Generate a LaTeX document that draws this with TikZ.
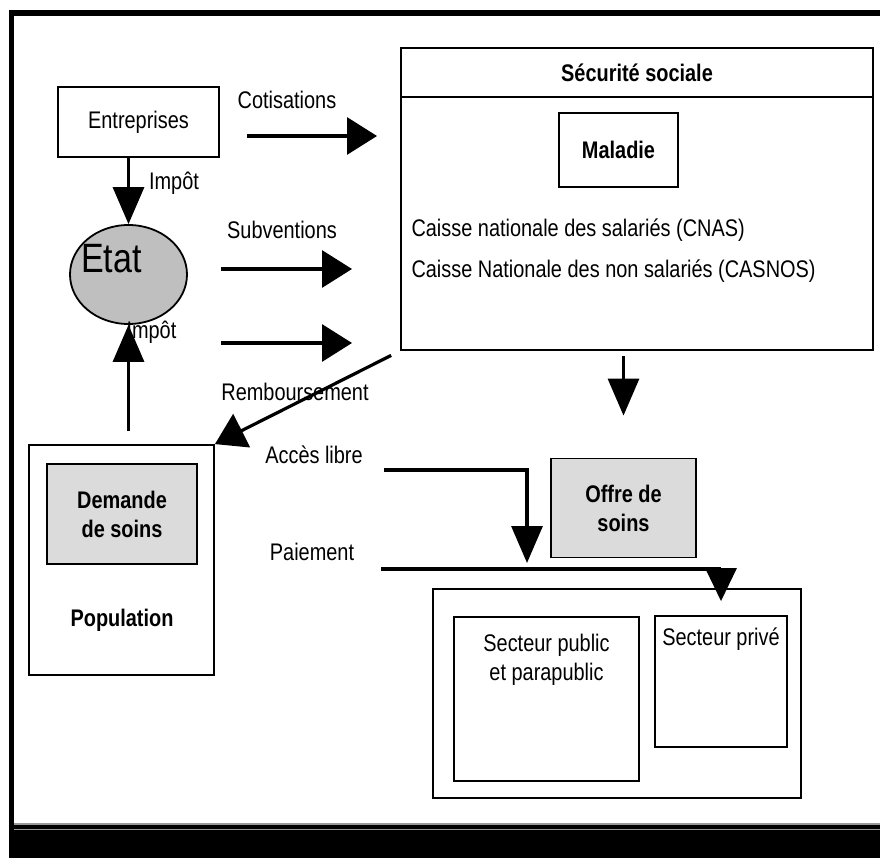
\documentclass[tikz,border=0pt]{standalone}
\usepackage{fontspec}
\setmainfont{Liberation Sans}[FakeStretch=0.83]
\usepackage{xcolor}
\usepackage{tikz}
\usetikzlibrary{arrows.meta, shapes.geometric}

\begin{document}
\begin{tikzpicture}[x=1pt, y=-1pt,
        font=\fontsize{24}{29}\selectfont,
        box/.style={draw, rectangle, line width=1.8pt},
        greybox/.style={box, fill=black!14, font=\fontsize{24}{29}\selectfont\bfseries, align=center},
        flow/.style={line width=3.2pt, -{Triangle[length=30pt,width=37pt]}},
        flowdown/.style={line width=3.2pt, -{Triangle[length=37pt,width=31pt]}}]
        \useasboundingbox (0,0) rectangle (880,858);

        % Frame
        \fill (9,10) rectangle (880,16);
        \fill (9,10) rectangle (14,858);
        \fill (9,823) rectangle (880,858);
        \draw[black!40, line width=1.2pt] (14,824) -- (880,824);
        \draw[black!40, line width=1.2pt] (14,829.5) -- (880,829.5);

        % Nodes
        \node (entreprises) [box, minimum width=161pt, minimum height=70pt] at (138.5,122) {Entreprises};
        \node (secuhead) [box, minimum width=472pt, minimum height=49pt, font=\fontsize{24}{29}\selectfont\bfseries] at (637,72.5) {Sécurité sociale};
        \node (secu) [box, minimum width=472pt, minimum height=253pt] at (637,223.5) {};
        \node (maladie) [box, minimum width=119pt, minimum height=74pt, font=\fontsize{24}{29}\selectfont\bfseries] at (618.5,150) {Maladie};
        \node (cnas) [anchor=west] at (408,230) {Caisse nationale des salariés (CNAS)};
        \node (casnos) [anchor=west] at (408,271) {Caisse Nationale des non salariés (CASNOS)};
        \node (etat) [draw, ellipse, fill=black!25, line width=1.8pt, minimum width=117pt, minimum height=99pt,
            label={[font=\fontsize{41}{46}\selectfont, xshift=-17pt, yshift=16pt]center:Etat}] at (128.5,274.5) {};
        \node (population) [box, minimum width=185pt, minimum height=230pt] at (121.5,560) {};
        \node (demande) [greybox, minimum width=150pt, minimum height=100pt] at (122,514) {Demande\\de soins};
        \node (poptxt) [font=\fontsize{24}{29}\selectfont\bfseries] at (122,620) {Population};
        \node (offre) [greybox, minimum width=145pt, minimum height=99pt] at (623.5,508) {Offre de\\soins};
        \node (secteurs) [box, minimum width=368pt, minimum height=209pt] at (617,693.5) {};
        \node (public) [box, minimum width=185pt, minimum height=164pt,
            label={[align=center, anchor=north, yshift=-14pt]north:Secteur public\\et parapublic}] at (546.5,699) {};
        \node (prive) [box, minimum width=132pt, minimum height=131pt,
            label={[anchor=north, yshift=-9pt]north:Secteur privé}] at (721,681.5) {};

        % Labels
        \node (cotlbl) at (287,100) {Cotisations};
        \node (subvlbl) at (282,230) {Subventions};
        \node (impot1) at (174,183) {Impôt};
        \node (impot2) [anchor=west] at (123,332) {Impôt};
        \node (remblbl) at (295,392) {Remboursement};
        \node (acceslbl) at (314,455) {Accès libre};
        \node (paielbl) at (312,552) {Paiement};

        % Free ends
        \coordinate (cotA) at (247,136);
        \coordinate (cotB) at (377,136);
        \coordinate (subA) at (221,269);
        \coordinate (subB) at (352,269);
        \coordinate (impA) at (221,343);
        \coordinate (impB) at (352,343);
        \coordinate (accA) at (384,470);
        \coordinate (accB) at (527,563);
        \coordinate (paiA) at (381,569);

        % Arrows
        \draw[flow] (cotA) -- (cotB);
        \draw[flow] (subA) -- (subB);
        \draw[flow] (impA) -- (impB);
        \draw[flowdown] (entreprises.south -| etat.north) -- (etat.north);
        \draw[flowdown, shorten <=13pt] (population.north -| etat.south) -- (etat.south);
        \draw[flow, shorten <=10pt] (secu.south west) -- (population.north east);
        \draw[flowdown, shorten <=5pt, shorten >=42pt] (secu.south -| offre.north) -- (offre.north);
        \draw[flowdown] (accA) -| (accB);
        \draw[line width=3.2pt, -{Triangle[length=33pt,width=31pt]}, shorten >=14pt] (paiA) -| (prive.north);
    \end{tikzpicture}
\end{document}
